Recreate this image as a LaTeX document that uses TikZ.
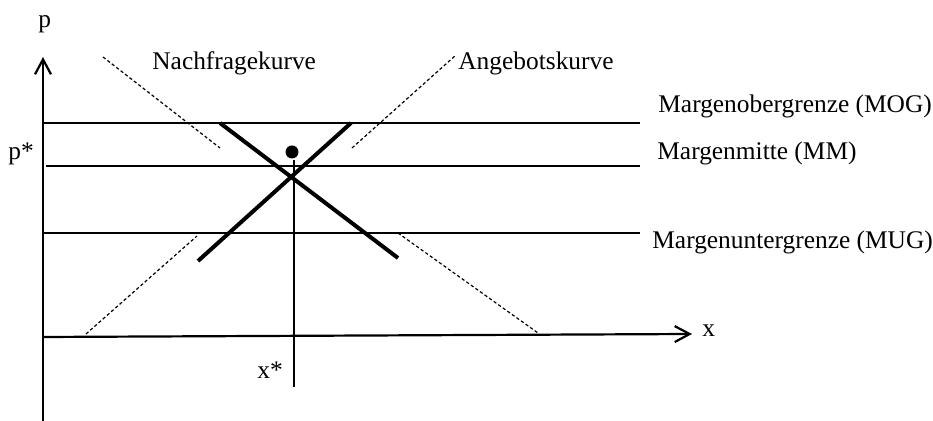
\documentclass[tikz,border=0pt]{standalone}
\usepackage{fontspec}
\setmainfont{Liberation Serif}
\usetikzlibrary{arrows.meta}

\begin{document}
\begin{tikzpicture}[x=0.5pt,y=-0.5pt,font=\fontsize{12.7}{15}\selectfont,
  achse/.style={line width=1.1pt,-{Straight Barb[length=7.5pt,width=8pt]}},
  grenze/.style={line width=0.7pt},
  kurve/.style={line width=2pt},
  hilfe/.style={line width=0.6pt,dash pattern=on 1.6pt off 1.2pt},
  txt/.style={anchor=base west,inner sep=0pt}]
\useasboundingbox (0,0) rectangle (933,421);
\coordinate (O) at (43,337); \coordinate (Ptop) at (43,57); \coordinate (Pbot) at (43,421); \coordinate (Xend) at (692,334);
\draw[achse] (Pbot)--(Ptop);
\draw[achse] (O)--(Xend);
\foreach \m/\y/\xa in {MOG/123/44,MM/166/46,MUG/233/42}{\coordinate (\m a) at (\xa,\y); \coordinate (\m b) at (640,\y); \draw[grenze] (\m a)--(\m b);}
\coordinate (N1) at (220,123); \coordinate (N2) at (398,258); \coordinate (A1) at (198,261); \coordinate (A2) at (351,123);
\draw[kurve] (N1)--(N2);
\draw[kurve] (A1)--(A2);
\coordinate (No1) at (103,57); \coordinate (No2) at (220,148); \coordinate (Nu1) at (398,233); \coordinate (Nu2) at (538,333);
\coordinate (Ao1) at (352,148); \coordinate (Ao2) at (456,55); \coordinate (Au1) at (86,334); \coordinate (Au2) at (197,236);
\foreach \a/\b in {No1/No2,Nu1/Nu2,Ao1/Ao2,Au1/Au2}{\draw[hilfe] (\a)--(\b);}
\coordinate (S) at (294,160); \coordinate (Sx) at (294,387);
\draw[grenze] (S)--(Sx);
\node[circle,fill,inner sep=0pt,minimum size=6.5pt] (GG) at (292,152) {};
\foreach \n/\x/\y/\t in {p/38/28/p,ps/8/160/p*,xs/257/379/x*,x/702/337/x,nk/152/70/Nachfragekurve,ak/458/70/Angebotskurve,mog/658/113/Margenobergrenze (MOG),mm/657/160/Margenmitte (MM),mug/652/249/Margenuntergrenze (MUG)}{\node[txt] (\n) at (\x,\y) {\t};}
\end{tikzpicture}
\end{document}
